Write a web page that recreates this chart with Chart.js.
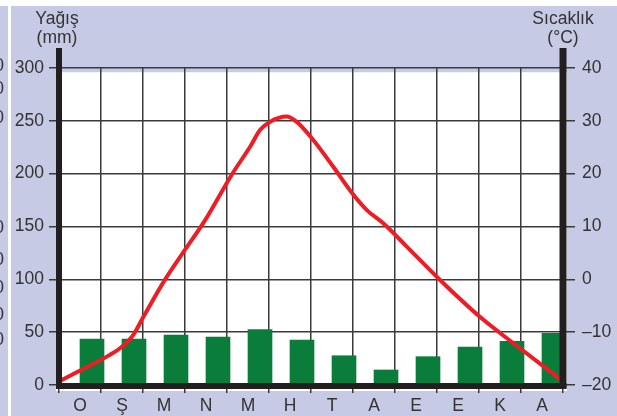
<!DOCTYPE html>
<html>
<head>
<meta charset="utf-8">
<script src="https://cdn.jsdelivr.net/npm/chart.js@4/dist/chart.umd.min.js"></script>
<style>
  body { margin: 0; background: #c6cae5; }
  canvas { display: block; }
</style>
</head>
<body>
<canvas id="climate-chart" width="617" height="416"></canvas>
<script>
/**
 * Climate chart: monthly rainfall bars with the temperature curve
 */

const months = ['O', 'Ş', 'M', 'N', 'M', 'H', 'T', 'A', 'E', 'E', 'K', 'A'];
const rainfall = [43.5, 43.5, 47.3, 45.4, 52.5, 42.6, 27.7, 14.2, 26.8, 36, 41.3, 48.9];

// temperature curve, x in months from the left edge (0..12)
const tempX = [0, 0.62, 1.21, 1.49, 1.77, 2.01, 2.52, 3.0, 3.48, 4.12, 4.55, 4.79, 5.02, 5.42, 5.66, 6.02, 6.53, 7.01, 7.33, 7.72, 8.28, 9.03, 10.02, 10.82, 12];
const tempC = [-19.3, -16.8, -14.3, -12.8, -10.5, -7.1, -0.1, 5.6, 11.2, 19.9, 25.1, 28.3, 29.8, 30.8, 29.8, 26.7, 21.3, 16.0, 13.1, 10.6, 6.2, 0.2, -7.1, -12.1, -19.3];

const rainAxis = [0, 300, 50];
const tempAxis = [-20, 40, 10];

// bits of the neighbouring chart's labels cut off at the left edge
const edgeMarks = [66, 89, 118, 228, 260, 288, 315, 340];

const FONT = 'Liberation Sans, Arial, sans-serif';
const SIZE = 17.5;
const TEXT = '#333333';
const GRID = '#3a3a3a';
const AXIS = '#231f20';

const frame = {
    id: 'frame',
    beforeDraw(chart) {
        const { ctx, chartArea: a, scales, width, height } = chart;
        ctx.save();
        ctx.fillStyle = '#c6cae5';
        ctx.fillRect(0, 0, width, height);
        ctx.fillStyle = '#ffffff';
        ctx.fillRect(0, 0, width, 6);
        ctx.fillRect(8, 6, 3, height);
        const top = scales.y.getPixelForValue(296);
        ctx.fillRect(a.left - 3, top, a.right - a.left + 7, a.bottom + 6 - top);

        ctx.fillStyle = TEXT;
        ctx.font = SIZE + 'px ' + FONT;
        ctx.textAlign = 'right';
        ctx.textBaseline = 'middle';
        edgeMarks.forEach(y => ctx.fillText('0', 4, y));
        ctx.restore();
    },
    afterDraw(chart) {
        const { ctx, chartArea: a } = chart;
        ctx.save();
        ctx.fillStyle = AXIS;
        ctx.fillRect(a.left - 3, 48, 6, a.bottom + 3 - 48);
        ctx.fillRect(a.right - 3.5, 48, 7, a.bottom + 3 - 48);
        ctx.fillRect(a.left - 3, a.bottom - 2, a.right - a.left + 6.5, 6);

        ctx.fillStyle = TEXT;
        ctx.font = SIZE + 'px ' + FONT;
        ctx.textAlign = 'center';
        ctx.textBaseline = 'middle';
        ctx.fillText('Yağış', 57, 19);
        ctx.fillText('(mm)', 57, 38);
        ctx.fillText('Sıcaklık', 563, 19);
        ctx.fillText('(°C)', 563, 38);
        ctx.restore();
    }
};

const ctx = document.getElementById('climate-chart').getContext('2d');

const climate = new Chart(ctx, {
    type: 'bar',
    data: {
        labels: months,
        datasets: [{
            type: 'line',
            label: 'Sıcaklık',
            data: tempX.map((x, i) => ({ x: x, y: tempC[i] })),
            xAxisID: 'x2',
            yAxisID: 'y2',
            borderColor: '#ee1c24',
            borderWidth: 4,
            pointRadius: 0,
            cubicInterpolationMode: 'monotone',
            fill: false,
            order: 0
        }, {
            label: 'Yağış',
            data: rainfall,
            xAxisID: 'x',
            yAxisID: 'y',
            backgroundColor: '#0b7d3b',
            borderWidth: 0,
            barThickness: 24,
            order: 1
        }]
    },
    options: {
        responsive: false,
        animation: false,
        devicePixelRatio: 1,
        layout: {
            padding: { top: 68, left: 0, right: 0, bottom: 0 }
        },
        plugins: {
            legend: { display: false },
            tooltip: { enabled: false }
        },
        scales: {
            x: {
                type: 'category',
                offset: true,
                afterFit: s => { s.height = 31; },
                grid: { color: GRID, lineWidth: 1.5, tickLength: 8, offset: true },
                border: { display: false },
                ticks: { color: TEXT, font: { family: FONT, size: SIZE }, padding: 3, maxRotation: 0 }
            },
            x2: {
                type: 'linear',
                display: false,
                offset: false,
                grid: { offset: false },
                min: 0,
                max: 12
            },
            y: {
                position: 'left',
                min: rainAxis[0],
                max: rainAxis[1],
                afterFit: s => { s.width = 59; },
                grid: { color: GRID, lineWidth: 1.5, tickLength: 10 },
                border: { display: false },
                ticks: { stepSize: rainAxis[2], color: TEXT, font: { family: FONT, size: SIZE }, padding: 5 }
            },
            y2: {
                position: 'right',
                min: tempAxis[0],
                max: tempAxis[1],
                afterFit: s => { s.width = 54; },
                grid: { color: GRID, lineWidth: 1.5, tickLength: 12, drawOnChartArea: false },
                border: { display: false },
                ticks: {
                    stepSize: tempAxis[2],
                    color: TEXT,
                    font: { family: FONT, size: SIZE },
                    padding: 7,
                    callback: v => (v < 0 ? '\u2013' + Math.abs(v) : String(v))
                }
            }
        }
    },
    plugins: [frame]
});
</script>
</body>
</html>
